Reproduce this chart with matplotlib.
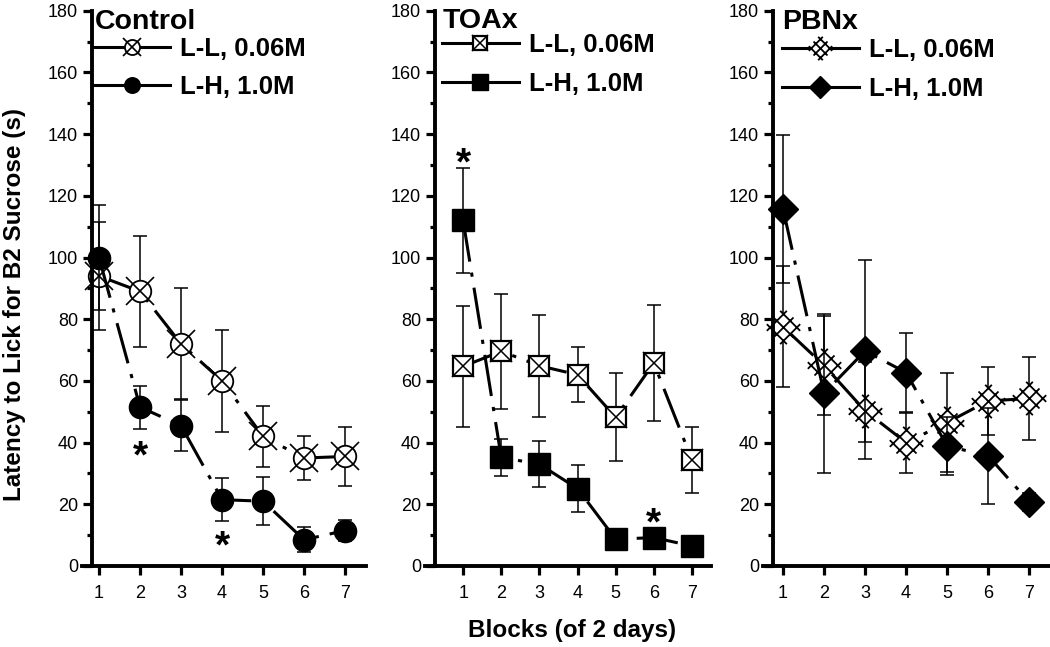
import numpy as np
import matplotlib.pyplot as plt
from matplotlib.path import Path
from matplotlib.lines import Line2D
from matplotlib.legend_handler import HandlerTuple
from matplotlib.ticker import MultipleLocator

plt.rcParams['font.family'] = ['Liberation Sans', 'DejaVu Sans']
plt.rcParams['lines.scale_dashes'] = False

blocks = [1, 2, 3, 4, 5, 6, 7]
labels = ['L-L, 0.06M', 'L-H, 1.0M']

# Control
ctrl_ll = [94, 89, 72, 60, 42, 35, 35.5]
ctrl_ll_err = [17.5, 18, 18, 16.5, 10, 7, 9.5]
ctrl_lh = [100, 51.5, 45.5, 21.5, 21, 8.5, 11.5]
ctrl_lh_err = [17, 7, 8.3, 7, 7.8, 4, 3.4]
# TOAx
toax_ll = [64.7, 69.6, 64.9, 62, 48.2, 65.8, 34.4]
toax_ll_err = [19.5, 18.7, 16.5, 9, 14.3, 18.8, 10.7]
toax_lh = [112, 35.2, 33, 25.1, 8.7, 9.2, 6.5]
toax_lh_err = [17, 6, 7.5, 7.5, 3, 3, 3]
# PBNx
pbnx_ll = [77.5, 65, 50.3, 40, 46.5, 53.5, 54.3]
pbnx_ll_err = [19.6, 16, 15.7, 9.7, 16, 11, 13.5]
pbnx_lh = [115.7, 56, 69.7, 62.7, 38.9, 35.7, 20.8]
pbnx_lh_err = [24, 25.8, 29.5, 12.8, 9.5, 15.5, 3]

# significance stars (block, y)
ctrl_star_x = [2, 4]; ctrl_star_y = [38, 8.7]
toax_star_x = [1, 6]; toax_star_y = [133, 16.2]

# lattice diamond marker: rotated 3x3 grid with lines sticking out
a = 1.0; t = 0.5
r2 = np.sqrt(2)
grid_verts = []
for off in (-a, 0, a):
    for (u0, v0, u1, v1) in [(-a-t, off, a+t, off), (off, -a-t, off, a+t)]:
        grid_verts += [((u0-v0)/r2, (u0+v0)/r2), ((u1-v1)/r2, (u1+v1)/r2)]
grid_mark = Path(grid_verts, [Path.MOVETO, Path.LINETO] * 6)

dash_pat = (0, (30, 8, 3, 8))
LW = 2.2

def draw_series(ax, y, err, marks, z):
    ax.errorbar(blocks, y, yerr=err, fmt='none', ecolor='k', elinewidth=1.1,
                capsize=4.7, capthick=1.1, zorder=z)
    ax.plot(blocks, y, color='k', lw=LW, linestyle=dash_pat, dash_capstyle='butt', zorder=z+0.1)
    handle = [Line2D([], [], color='k', lw=LW)]
    for i, m in enumerate(marks):
        ax.plot(blocks, y, ls='none', zorder=z+0.2+0.01*i, **m)
        ms = dict(m); ms['ms'] = m['ms'] * 0.7
        handle.append(Line2D([], [], ls='none', **ms))
    return tuple(handle)

fig = plt.figure(figsize=(10.5, 6.47), dpi=100)

panels = [
    ('Control', [82/1050, 81/647, 284/1050, 555.3/647], (0.585, 7.51),
     ctrl_ll, ctrl_ll_err, ctrl_lh, ctrl_lh_err,
     [dict(marker='o', ms=15.5, mfc='white', mec='k', mew=1.3),
      dict(marker='x', ms=19.5, mec='k', mew=1.2)],
     [dict(marker='o', ms=16, mfc='k', mec='k', mew=1)],
     ctrl_star_x, ctrl_star_y, (0.046, 0.967), (0.039, 0.952)),
    ('TOAx', [425/1050, 81/647, 286/1050, 555.3/647], (0.0, 7.5),
     toax_ll, toax_ll_err, toax_lh, toax_lh_err,
     [dict(marker='s', ms=14.5, mfc='white', mec='k', mew=1.6),
      dict(marker='x', ms=15.5, mec='k', mew=1.1)],
     [dict(marker='s', ms=15.5, mfc='k', mec='k', mew=1)],
     toax_star_x, toax_star_y, (0.063, 0.969), (0.059, 0.959)),
    ('PBNx', [763/1050, 81/647, 287/1050, 555.3/647], (0.51, 7.51),
     pbnx_ll, pbnx_ll_err, pbnx_lh, pbnx_lh_err,
     [dict(marker='D', ms=13.5, mfc='white', mec='none'),
      dict(marker=grid_mark, ms=24, mfc='none', mec='k', mew=1.3)],
     [dict(marker='D', ms=15.5, mfc='k', mec='k', mew=1)],
     [], [], (0.066, 0.967), (0.066, 0.950)),
]

for (name, rect, xl, ll, ll_err, lh, lh_err, ll_marks, lh_marks,
     sx, sy, title_pos, leg_pos) in panels:
    ax = fig.add_axes(rect)
    h1 = draw_series(ax, ll, ll_err, ll_marks, 2)
    h2 = draw_series(ax, lh, lh_err, lh_marks, 3)
    for xs, ys in zip(sx, sy):
        ax.annotate('*', (xs, ys), xytext=(0, -6), textcoords='offset points',
                    fontsize=28, fontweight='bold', ha='center', va='center')
    ax.set_xlim(*xl)
    ax.set_ylim(0, 180)
    ax.set_xticks(blocks)
    ax.yaxis.set_major_locator(MultipleLocator(20))
    ax.yaxis.set_minor_locator(MultipleLocator(10))
    for s in ['top', 'right']:
        ax.spines[s].set_visible(False)
    for s in ['left', 'bottom']:
        ax.spines[s].set_linewidth(2.8)
    ax.spines['left'].set_position(('outward', -7))
    ax.tick_params(which='major', length=6.5, width=2.3, labelsize=13, direction='out')
    ax.tick_params(axis='x', pad=7.5)
    ax.tick_params(axis='y', pad=3.4)
    ax.tick_params(which='minor', axis='y', length=3.6, width=2.3, direction='out')
    ax.text(title_pos[0], title_pos[1], name, transform=ax.transAxes,
            fontsize=20.5, fontweight='bold', ha='left', va='baseline')
    ax.legend([h1, h2], labels, handler_map={tuple: HandlerTuple(ndivide=1)},
              loc='upper left', bbox_to_anchor=leg_pos, frameon=False,
              borderaxespad=0, borderpad=0, handlelength=3.0, handletextpad=0.39,
              labelspacing=0.55, prop={'size': 18.5, 'weight': 'bold'})

fig.text(0.0138, 0.530, 'Latency to Lick for B2 Sucrose (s)', rotation=90,
         ha='center', va='center', fontsize=17.5, fontweight='bold')
fig.text(0.545, 0.025, 'Blocks (of 2 days)', ha='center', va='center',
         fontsize=17.5, fontweight='bold')

fig.savefig('out.png', dpi=100)
